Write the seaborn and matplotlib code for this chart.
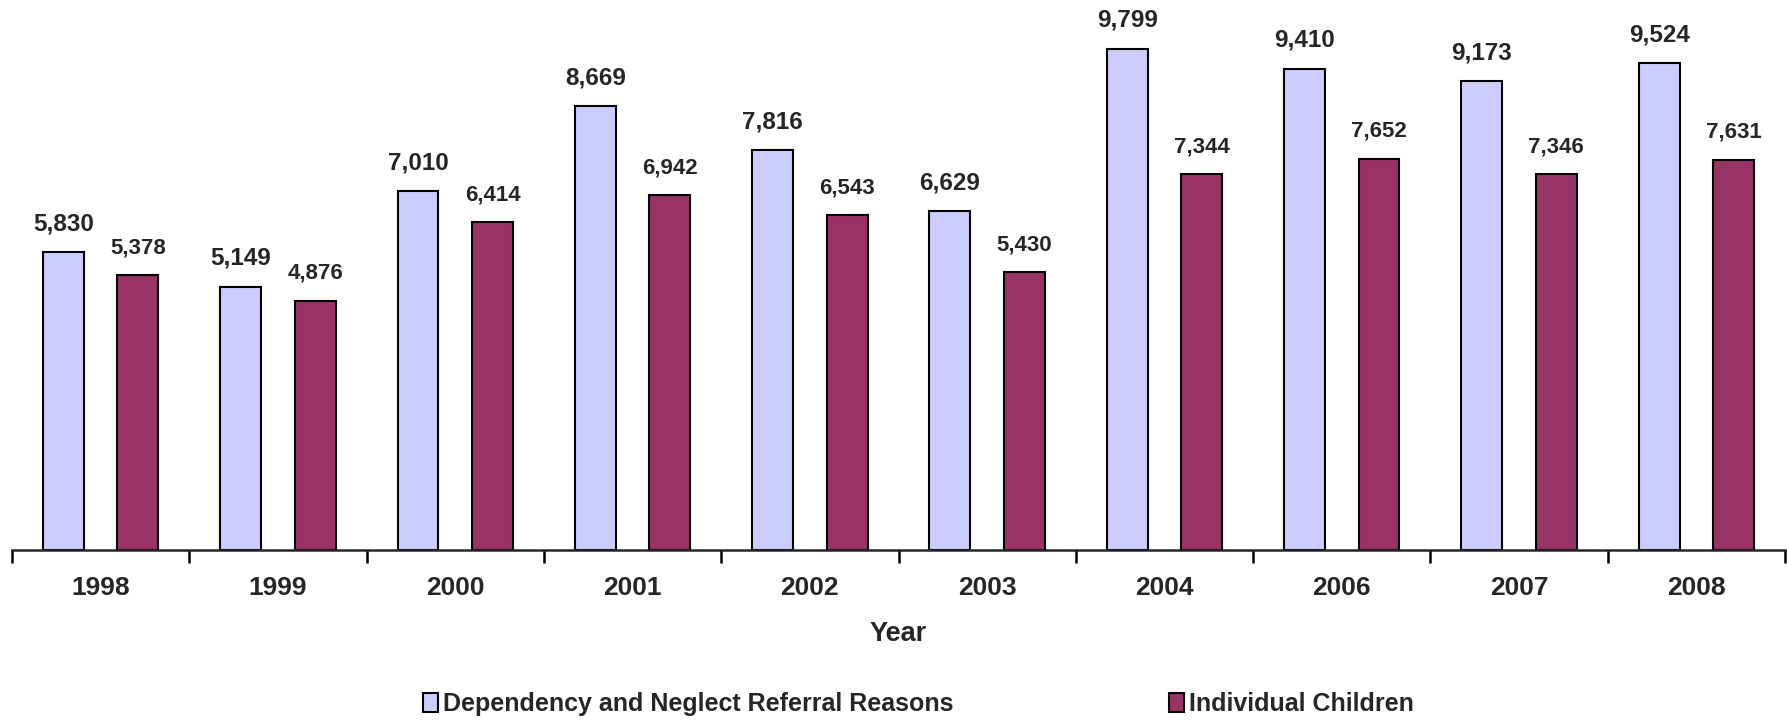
"""Dependency and neglect referral reasons vs individual children by year."""

import matplotlib.pyplot as plt
import pandas as pd
import seaborn as sns
from matplotlib.ticker import FixedLocator


YEARS = ["1998", "1999", "2000", "2001", "2002", "2003", "2004", "2006", "2007", "2008"]
REFERRAL_REASONS = [5830, 5149, 7010, 8669, 7816, 6629, 9799, 9410, 9173, 9524]
INDIVIDUAL_CHILDREN = [5378, 4876, 6414, 6942, 6543, 5430, 7344, 7652, 7346, 7631]

SERIES_NAMES = ["Dependency and Neglect Referral Reasons", "Individual Children"]
COLORS = ["#CCCCFF", "#993366"]
LABEL_SIZES = [17.5, 16]


def build_long_df() -> pd.DataFrame:
    """Stack both series into one tidy table for seaborn."""
    frames = []
    for name, values in zip(SERIES_NAMES, [REFERRAL_REASONS, INDIVIDUAL_CHILDREN]):
        frames.append(pd.DataFrame({"year": YEARS, "count": values, "series": name}))
    return pd.concat(frames, ignore_index=True)


def main() -> None:
    sns.set_style("white")
    plt.rcParams["font.family"] = ["Liberation Sans", "DejaVu Sans"]

    long_df = build_long_df()

    fig = plt.figure(figsize=(17.87, 7.21), dpi=100)
    ax = fig.add_axes([12 / 1787, 1 - 550 / 721, 1773 / 1787, 550 / 721])

    sns.barplot(
        data=long_df,
        x="year",
        y="count",
        hue="series",
        order=YEARS,
        hue_order=SERIES_NAMES,
        palette=COLORS,
        width=0.84,
        gap=0.45,
        edgecolor="black",
        linewidth=1.5,
        saturation=1,
        legend=True,
        ax=ax,
    )

    ax.set_xlim(-0.5, len(YEARS) - 0.5)
    ax.set_ylim(0, 10750)

    # value labels, one container per series
    for container, size in zip(ax.containers, LABEL_SIZES):
        labels = [f"{v:,.0f}" for v in container.datavalues]
        ax.bar_label(container, labels=labels, padding=12, fontsize=size, fontweight="bold")

    for side in ["left", "right", "top"]:
        ax.spines[side].set_visible(False)
    ax.spines["bottom"].set_linewidth(1.8)
    ax.set_yticks([])
    ax.set_ylabel("")

    ax.xaxis.set_minor_locator(FixedLocator([i - 0.5 for i in range(len(YEARS) + 1)]))
    ax.tick_params(axis="x", which="major", length=0, pad=19, labelsize=19)
    ax.tick_params(axis="x", which="minor", bottom=True, length=9, width=1.8, color="black", direction="out")
    for label in ax.get_xticklabels():
        label.set_fontweight("bold")
    ax.set_xlabel("Year", fontsize=19.5, fontweight="bold", labelpad=15)

    handles, labels = ax.get_legend_handles_labels()
    ax.get_legend().remove()
    fig.legend(
        handles,
        labels,
        loc="center",
        bbox_to_anchor=(0.514, 1 - 704 / 721),
        ncol=2,
        frameon=False,
        handlelength=0.6,
        handleheight=0.8,
        handletextpad=0.2,
        columnspacing=8.6,
        prop={"size": 18, "weight": "bold"},
    )

    fig.savefig("out.png", dpi=100)
    plt.close(fig)


if __name__ == "__main__":
    main()
